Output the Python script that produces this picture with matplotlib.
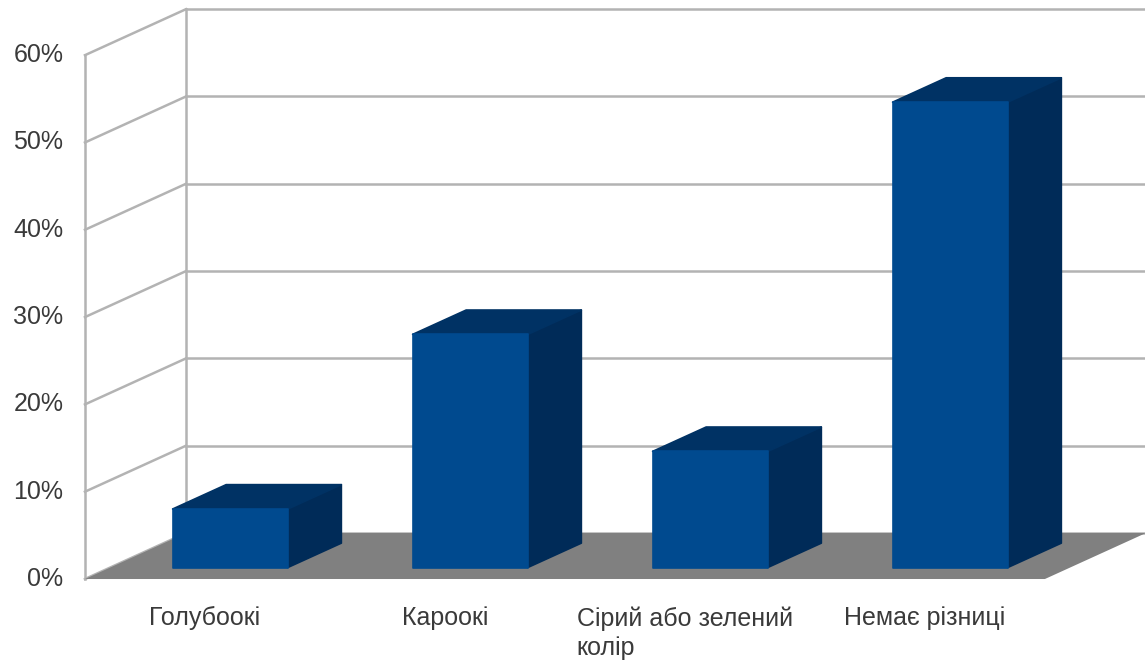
import matplotlib.pyplot as plt
from matplotlib.patches import Polygon

plt.rcParams['font.family'] = ['Liberation Sans', 'DejaVu Sans']

categories = ['Голубоокі', 'Кароокі', 'Сірий або зелений\nколір', 'Немає різниці']
shares = [6.7, 26.7, 13.3, 53.3]          # percent of answers
y_ticks = [0, 10, 20, 30, 40, 50, 60]
y_labels = ['0%', '10%', '20%', '30%', '40%', '50%', '60%']

# oblique "3D" look: a unit of depth moves a point right and up
DX, DY = 0.421, 5.27
FRONT_C = '#004a8f'
TOP_C = '#003264'
SIDE_C = '#002b58'
GRID_C = '#b3b3b3'
TEXT_C = '#3a3a3a'


def proj(x, y, z):
    return (x + z * DX, y + z * DY)


fig = plt.figure(figsize=(11.45, 6.61), dpi=100)
ax = fig.add_axes([0, 0, 1, 1])
ax.set_xlim(-0.854, 3.917)
ax.set_ylim(-9.39, 66.32)
ax.axis('off')

x0, x1 = -0.5, len(categories) - 0.5
ytop = y_ticks[-1]

# back wall and left wall grid
for t in y_ticks:
    bx0, by = proj(x0, t, 1)
    bx1, _ = proj(x1, t, 1)
    fx, fy = proj(x0, t, 0)
    ax.plot([bx0, bx1], [by, by], color=GRID_C, lw=1.8, zorder=1)
    ax.plot([fx, bx0], [fy, by], color=GRID_C, lw=1.8, zorder=1)
ax.plot(*zip(proj(x0, 0, 0), proj(x0, ytop, 0)), color=GRID_C, lw=1.8, zorder=1)
ax.plot(*zip(proj(x0, 0, 1), proj(x0, ytop, 1)), color=GRID_C, lw=1.8, zorder=1)

# floor
floor = [proj(x0, 0, 0), proj(x1, 0, 0), proj(x1, 0, 1), proj(x0, 0, 1)]
ax.add_patch(Polygon(floor, closed=True, facecolor='#808080', edgecolor='none', zorder=2))

# bars
hw, z0, z1 = 0.24, 0.25, 0.78
for i, v in enumerate(shares):
    l, r = i - hw, i + hw
    front = [proj(l, 0, z0), proj(r, 0, z0), proj(r, v, z0), proj(l, v, z0)]
    top = [proj(l, v, z0), proj(r, v, z0), proj(r, v, z1), proj(l, v, z1)]
    side = [proj(r, 0, z0), proj(r, v, z0), proj(r, v, z1), proj(r, 0, z1)]
    ax.add_patch(Polygon(side, closed=True, facecolor=SIDE_C, edgecolor=SIDE_C,
                         lw=1.2, joinstyle='round', zorder=3))
    ax.add_patch(Polygon(top, closed=True, facecolor=TOP_C, edgecolor=TOP_C,
                         lw=1.2, joinstyle='round', zorder=3))
    ax.add_patch(Polygon(front, closed=True, facecolor=FRONT_C, edgecolor=FRONT_C,
                         lw=1.2, joinstyle='round', zorder=4))

# axis labels
for t, lab in zip(y_ticks, y_labels):
    ax.text(x0 - 0.09, t, lab, ha='right', va='center', fontsize=18, color=TEXT_C)
for i, lab in enumerate(categories):
    ax.text(i, -3.1, lab, ha='center', va='top', multialignment='left',
            fontsize=18, color=TEXT_C, linespacing=1.3)

fig.savefig('out.png', dpi=100)
